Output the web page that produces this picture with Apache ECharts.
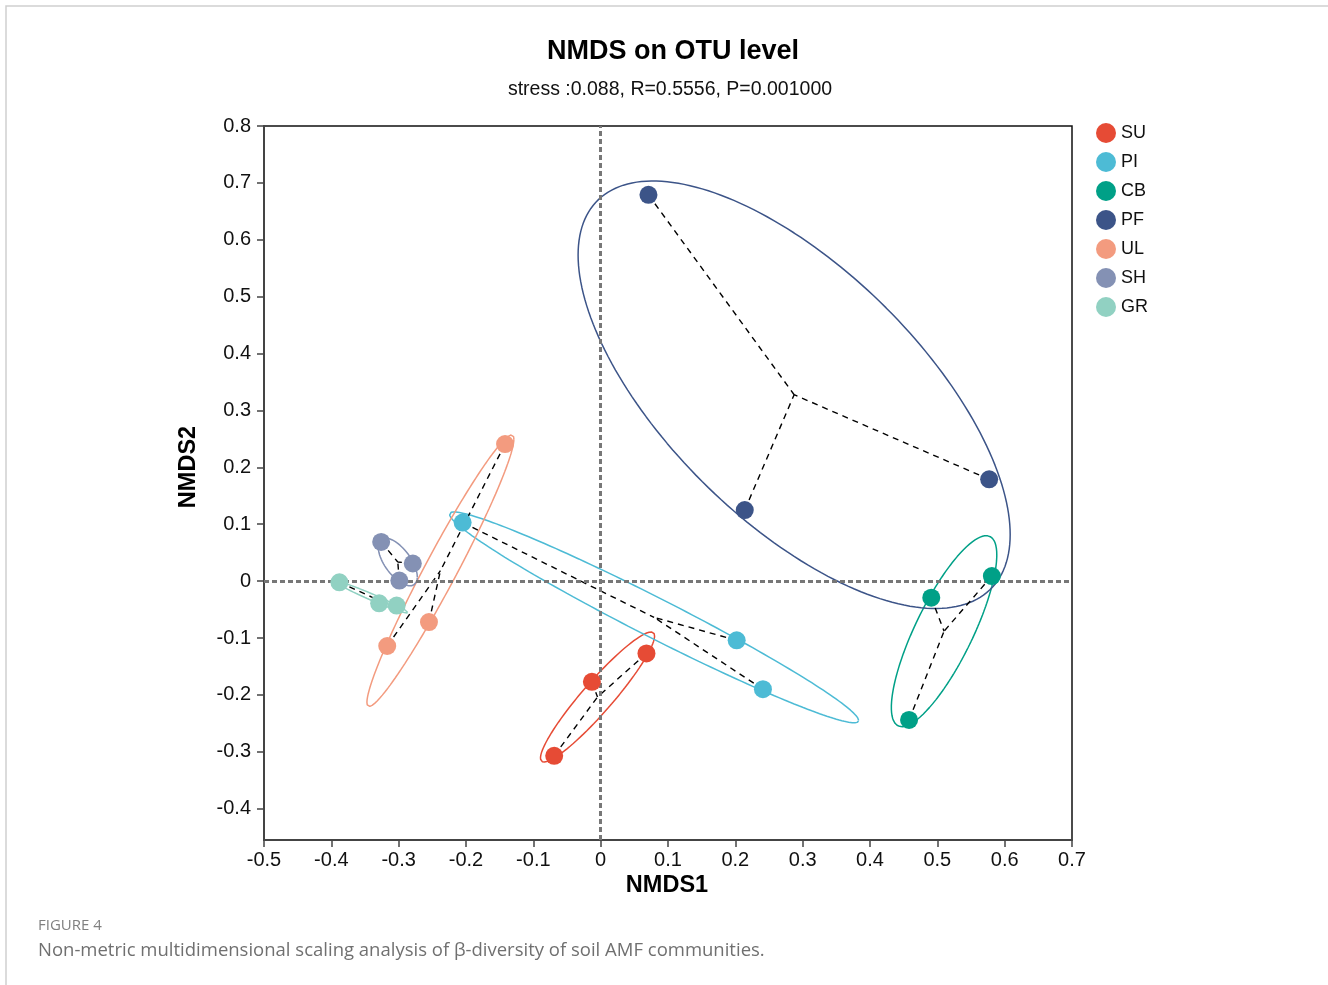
<!DOCTYPE html>
<html>
<head>
<meta charset="utf-8">
<script src="https://cdn.jsdelivr.net/npm/echarts@6/dist/echarts.min.js"></script>
<style>
html,body{margin:0;padding:0;background:#fff;}
#chart{width:1328px;height:985px;}
</style>
</head>
<body>
<div id="chart"></div>
<script>
// ---- data ----
const groups = ['SU', 'PI', 'CB', 'PF', 'UL', 'SH', 'GR'];
const colors = ['#E64B35', '#4DBBD5', '#00A087', '#3C5488', '#F39B7F', '#8491B4', '#91D1C2'];
const SU = [[-0.013, -0.177], [0.068, -0.127], [-0.069, -0.307]];
const PI = [[-0.205, 0.103], [0.202, -0.104], [0.241, -0.190]];
const CB = [[0.491, -0.029], [0.581, 0.009], [0.458, -0.244]];
const PF = [[0.071, 0.679], [0.214, 0.125], [0.577, 0.179]];
const UL = [[-0.142, 0.241], [-0.255, -0.072], [-0.317, -0.114]];
const SH = [[-0.326, 0.069], [-0.279, 0.031], [-0.299, 0.001]];
const GR = [[-0.388, -0.002], [-0.329, -0.039], [-0.303, -0.043]];
const groupData = [SU, PI, CB, PF, UL, SH, GR];
const xTicks = [-0.5, -0.4, -0.3, -0.2, -0.1, 0, 0.1, 0.2, 0.3, 0.4, 0.5, 0.6, 0.7];
const yTicks = [-0.4, -0.3, -0.2, -0.1, 0, 0.1, 0.2, 0.3, 0.4, 0.5, 0.6, 0.7, 0.8];
const titleText = 'NMDS on OTU level';
const subText = 'stress :0.088, R=0.5556, P=0.001000';

// ---- statistics: centroid + covariance ellipse ----
const ellipseScale = 1.23;
function centroid(pts) {
  const n = pts.length;
  return [pts.reduce((s, p) => s + p[0], 0) / n, pts.reduce((s, p) => s + p[1], 0) / n];
}
function ellipse(pts, segs) {
  const n = pts.length, c = centroid(pts);
  let a = 0, b = 0, d = 0;
  pts.forEach(p => { const dx = p[0] - c[0], dy = p[1] - c[1]; a += dx * dx; b += dx * dy; d += dy * dy; });
  a /= (n - 1); b /= (n - 1); d /= (n - 1);
  const l11 = Math.sqrt(a), l21 = b / l11, l22 = Math.sqrt(Math.max(d - l21 * l21, 0));
  const out = [];
  for (let i = 0; i <= segs; i++) {
    const t = 2 * Math.PI * i / segs, u = Math.cos(t), v = Math.sin(t);
    out.push([c[0] + ellipseScale * l11 * u, c[1] + ellipseScale * (l21 * u + l22 * v)]);
  }
  return out;
}

const series = [];
series.push({
  type: 'line', data: [], silent: true, z: 1,
  markLine: {
    silent: true, symbol: 'none', label: { show: false },
    lineStyle: { color: '#777', width: 3, type: [5, 3] },
    data: [{ xAxis: 0 }, { yAxis: 0 }]
  }
});
groups.forEach((g, i) => {
  const pts = groupData[i], c = centroid(pts);
  series.push({
    type: 'line', name: g + '_ellipse', data: ellipse(pts, 200), showSymbol: false, smooth: false,
    lineStyle: { color: colors[i], width: 1.5 }, silent: true, z: 2
  });
  const spider = [];
  pts.forEach(p => { spider.push(p); spider.push(c); spider.push(null); });
  series.push({
    type: 'line', name: g + '_spider', data: spider.map(p => p ? p : ['-', '-']), showSymbol: false,
    connectNulls: false, lineStyle: { color: '#000', width: 1.4, type: [6, 5] }, silent: true, z: 3
  });
});
groups.forEach((g, i) => {
  series.push({
    type: 'scatter', name: g, data: groupData[i], symbol: 'circle', symbolSize: 18,
    itemStyle: { color: colors[i], opacity: 1 }, z: 5
  });
});

const chart = echarts.init(document.getElementById('chart'), null, { renderer: 'canvas' });
const fmt = v => String(parseFloat(Number(v).toFixed(1)));
chart.setOption({
  animation: false,
  backgroundColor: '#fff',
  textStyle: { fontFamily: 'Liberation Sans, Arial, sans-serif' },
  grid: { left: 264, right: 256, top: 126, bottom: 145, show: true, borderColor: '#111', borderWidth: 1.5, containLabel: false },
  legend: {
    data: groups, orient: 'vertical', left: 1091, top: 118, itemWidth: 20, itemHeight: 20, itemGap: 9,
    icon: 'circle', textStyle: { fontSize: 18, color: '#111', padding: [0, 0, 0, 0] }
  },
  xAxis: {
    type: 'value', min: xTicks[0], max: xTicks[xTicks.length - 1], interval: 0.1,
    axisLine: { show: true, onZero: false, lineStyle: { color: '#444', width: 2 } },
    axisTick: { show: true, length: 7, lineStyle: { color: '#444', width: 1.5 } },
    axisLabel: { fontSize: 20, color: '#111', margin: 10, formatter: fmt },
    splitLine: { show: false }
  },
  yAxis: {
    type: 'value', min: -0.455, max: 0.8,
    axisLine: { show: true, onZero: false, lineStyle: { color: '#444', width: 2 } },
    axisTick: { show: true, length: 7, customValues: yTicks, lineStyle: { color: '#444', width: 1.5 } },
    axisLabel: { fontSize: 20, color: '#111', margin: 13, customValues: yTicks, formatter: fmt },
    splitLine: { show: false }
  },
  graphic: [
    { type: 'rect', shape: { x: 6, y: 6, width: 1340, height: 1000 }, style: { fill: 'none', stroke: '#cfcfcf', lineWidth: 1.5 }, silent: true, z: -10 },
    { type: 'text', style: { text: titleText, x: 673, y: 52, align: 'center', verticalAlign: 'middle', font: 'bold 27px "Liberation Sans", Arial, sans-serif', fill: '#000' } },
    { type: 'text', style: { text: subText, x: 670, y: 90, align: 'center', verticalAlign: 'middle', font: '19.5px "Liberation Sans", Arial, sans-serif', fill: '#111' } },
    { type: 'text', style: { text: 'NMDS1', x: 667, y: 886, align: 'center', verticalAlign: 'middle', font: 'bold 23.5px "Liberation Sans", Arial, sans-serif', fill: '#000' } },
    { type: 'text', rotation: Math.PI / 2, x: 189, y: 467, style: { text: 'NMDS2', x: 0, y: 0, align: 'center', verticalAlign: 'middle', font: 'bold 23.5px "Liberation Sans", Arial, sans-serif', fill: '#000' } },
    { type: 'text', style: { text: 'FIGURE 4', x: 38, y: 926, align: 'left', verticalAlign: 'middle', font: '15px "Open Sans", sans-serif', fill: '#808080' } },
    { type: 'text', style: { text: 'Non-metric multidimensional scaling analysis of β-diversity of soil AMF communities.', x: 38, y: 951, align: 'left', verticalAlign: 'middle', font: '18.5px "Open Sans", sans-serif', fill: '#707070' } }
  ],
  series: series
});
</script>
</body>
</html>
